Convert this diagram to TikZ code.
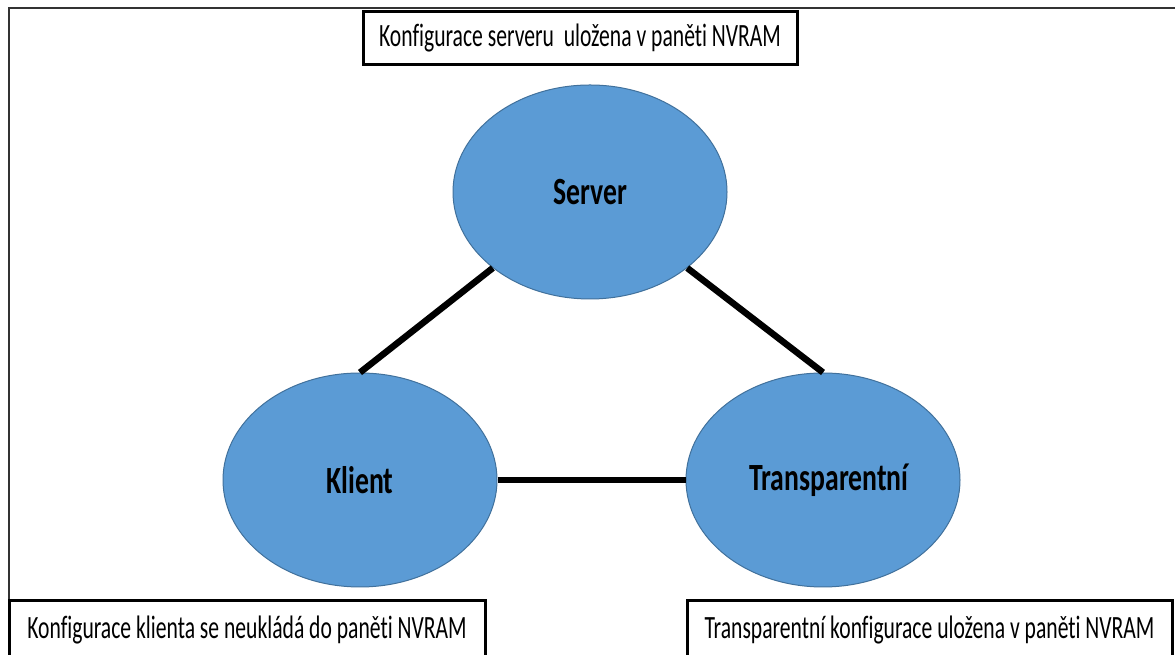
\documentclass[tikz,border=0pt]{standalone}
\usepackage{fontspec}
\setmainfont{Carlito}
\newfontfamily\notefont[FakeStretch=0.665,Ligatures=NoCommon]{Carlito}
\newfontfamily\modefont[FakeStretch=0.72,Ligatures=NoCommon]{Carlito}
\usetikzlibrary{shapes.geometric}
\definecolor{modefill}{HTML}{5B9BD5}
\definecolor{modeedge}{HTML}{41719C}
\definecolor{framegray}{HTML}{333333}

\begin{document}
\begin{tikzpicture}[x=1pt,y=1pt,
  mode/.style={ellipse, draw=modeedge, fill=modefill, line width=1pt,
    minimum width=274pt, minimum height=214pt, inner sep=0pt,
    font=\modefont\bfseries\fontsize{38.5}{40}\selectfont},
  note/.style={draw=black, line width=3pt, fill=white, inner sep=0pt,
    font=\notefont\fontsize{32.5}{34}\selectfont},
  link/.style={draw=black, line width=6.5pt}]

  \useasboundingbox (0,0) rectangle (1175,655);
  \fill[white] (0,0) rectangle (1175,655);
  \clip (0,0) rectangle (1175,655);

  % outer frame (top and left edges only)
  \draw[framegray, line width=1.5pt] (1180,647) -- (9,647) -- (9,50);

  % the three operating modes
  \node[mode] (server) at (590,463) {Server};
  \node[mode] (klient) at (360,175) {Klient};
  \node[mode] (transp) at (823,175) {\hspace*{12pt}Transparentní};

  % connections between the modes
  \draw[link] (server.south west) -- (klient.north);
  \draw[link] (server.south east) -- (transp.north);
  \draw[link] (klient.east) -- (transp.west);

  % descriptive notes
  \node[note, minimum width=434pt, minimum height=53pt] (nserver) at (580,616.5)
    {Konfigurace serveru~ uložena v paněti NVRAM};
  \node[note, minimum width=476pt, minimum height=58pt] (nklient) at (247,25)
    {Konfigurace klienta se neukládá do paněti NVRAM};
  \node[note, minimum width=485pt, minimum height=58pt] (ntransp) at (929.5,25)
    {Transparentní konfigurace uložena v paněti NVRAM};
\end{tikzpicture}
\end{document}
